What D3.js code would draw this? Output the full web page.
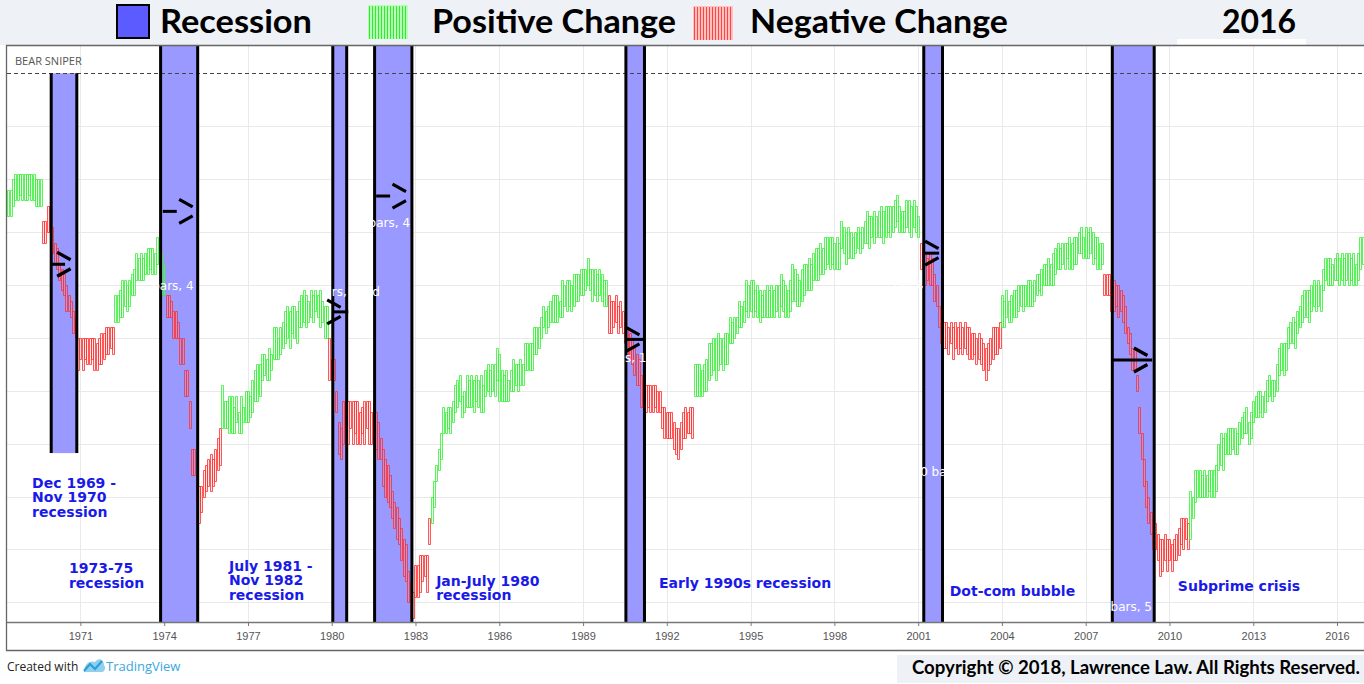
<!DOCTYPE html>
<html><head><meta charset="utf-8">
<script src="https://cdn.jsdelivr.net/npm/d3@7"></script>
<style>body{margin:0;background:#fff}svg{display:block}</style>
</head><body>
<svg id="c" width="1364" height="684"></svg>
<script>
// ---------------- DATA ----------------
const firstMonth = [1968, 6];           // first bar: June 1968, monthly bars
const highs = [
 88,88,90,91,91,91,91,                         // 1968 Jun-Dec
 91,91,91,91,91,90,90,90,82,82,85,85,          // 1969
 81,78,77,74,73,72,70,68,67,65,64,60,          // 1970
 60,60,60,60,60,60,60,59,60,61,61,62,          // 1971
 62,62,62,68,68,69,71,71,70,71,72,73,          // 1972
 76,75,76,75,76,77,77,77,76,79,77,76,          // 1973
 74,68,68,67,65,65,63,60,60,54,54,48,          // 1974
 39,39,34,32,32,35,36,37,38,37,39,41,          // 1975
 43,51,48,48,49,49,47,49,46,49,47,50,          // 1976
 50,49,52,54,55,55,57,57,56,58,57,62,          // 1977
 62,60,62,63,65,66,65,66,66,65,67,68,          // 1978
 69,68,67,69,68,69,68,69,67,66,66,60,          // 1979
 56,56,50,44,43,48,48,48,48,48,48,48,          // 1980
 46,47,48,48,48,46,48,46,44,41,39,37,          // 1981
 36,34,31,29,28,26,24,22,21,16,14,12,          // 1982
 17,17,19,19,19,19,26,30,33,36,39,42,          // 1983
 47,46,47,47,48,51,52,53,49,50,53,52,          // 1984
 53,52,53,52,53,51,54,55,54,55,55,58,          // 1985
 57,54,53,54,52,54,56,55,55,56,55,59,          // 1986
 59,59,59,62,62,62,64,66,65,66,67,68,          // 1987
 68,68,67,71,70,71,71,70,72,72,72,73,          // 1988
 73,73,75,73,73,73,72,73,72,71,71,68,          // 1989
 67,67,68,66,67,65,63,62,61,60,58,57,          // 1990
 56,53,52,51,51,51,51,51,50,50,47,47,          // 1991
 46,46,46,44,43,43,44,46,47,46,47,47,          // 1992
 55,55,55,54,55,56,59,59,60,60,61,60,          // 1993
 60,61,61,64,63,64,64,67,66,67,71,70,          // 1994
 71,71,69,70,69,68,69,70,69,70,69,70,          // 1995
 70,72,71,70,69,71,74,73,72,71,73,74,          // 1996
 74,75,74,76,77,77,78,77,79,79,79,79,          // 1997
 78,79,78,82,81,80,81,80,79,80,81,80,          // 1998
 81,82,84,83,83,84,83,84,85,84,85,85,          // 1999
 85,85,86,87,85,84,84,86,86,85,86,85,          // 2000
 83,78,77,76,75,76,75,72,70,66,63,63,          // 2001
 63,62,63,62,63,62,63,62,63,62,62,61,          // 2002
 61,60,61,60,59,58,59,60,62,62,62,63,          // 2003
 68,67,69,67,68,69,69,70,70,70,70,71,          // 2004
 71,70,71,72,72,73,74,74,75,74,76,77,          // 2005
 78,77,78,78,78,79,78,79,79,80,81,79,          // 2006
 81,80,81,80,79,79,78,78,72,72,72,71,          // 2007
 71,70,70,69,68,66,62,61,58,58,53,47,          // 2008
 42,37,33,30,27,26,25,23,22,22,23,22,          // 2009
 22,21,22,23,24,26,26,26,25,31,30,35,          // 2010
 35,35,34,35,34,35,35,35,36,40,42,41,          // 2011
 42,43,43,43,43,42,44,45,46,47,44,46,          // 2012
 48,49,50,50,49,50,52,53,52,52,55,58,          // 2013
 59,59,59,62,63,64,63,65,66,68,69,69,          // 2014
 69,70,71,70,71,70,73,75,75,75,74,75,          // 2015
 76,75,76,75,76,76,75,76,74,76,79,79           // 2016
];
const lows = [
 83,83,85,86,86,87,86,                         // 1968 Jun-Dec
 86,86,87,86,86,85,85,85,78,78,80,80,          // 1969
 76,74,73,71,69,68,65,65,64,61,60,54,          // 1970
 56,54,56,55,55,56,54,54,55,55,56,57,          // 1971
 57,58,57,63,63,64,64,66,65,66,68,68,          // 1972
 71,71,71,71,72,72,73,72,72,74,72,68,          // 1973
 68,64,64,64,60,60,60,55,55,49,49,43,          // 1974
 34,34,29,25,27,30,31,32,31,32,33,35,          // 1975
 36,43,43,43,42,42,42,44,42,42,44,44,          // 1976
 44,45,46,48,48,49,52,53,52,52,54,56,          // 1977
 56,56,57,58,59,60,58,61,60,59,62,62,          // 1978
 63,62,63,64,63,65,64,62,63,60,60,52,          // 1979
 52,52,46,38,37,40,43,40,43,40,42,40,          // 1980
 40,42,40,43,40,40,41,39,37,37,32,30,          // 1981
 29,28,26,24,22,21,18,15,14,10,7,7,            // 1982
 11,11,12,14,15,12,21,25,28,33,35,37,          // 1983
 42,42,43,42,44,46,47,48,45,46,47,47,          // 1984
 47,46,48,47,46,46,49,50,49,50,49,52,          // 1985
 48,48,48,48,48,50,50,51,50,51,51,54,          // 1986
 54,54,54,57,57,58,60,62,61,62,63,63,          // 1987
 63,63,64,64,66,65,66,65,66,67,67,68,          // 1988
 68,69,70,69,67,68,67,68,67,66,66,61,          // 1989
 61,62,63,61,62,61,59,57,56,55,53,51,          // 1990
 51,47,47,46,47,46,46,47,46,46,43,41,          // 1991
 41,41,41,39,38,37,39,41,41,42,42,41,          // 1992
 49,49,49,49,50,50,52,53,54,52,54,55,          // 1993
 54,55,55,59,59,60,61,62,62,63,65,64,          // 1994
 65,64,65,64,63,64,64,64,64,64,64,65,          // 1995
 64,66,65,64,64,65,67,67,66,66,67,68,          // 1996
 69,69,69,71,71,71,72,72,73,74,73,74,          // 1997
 73,73,73,77,76,74,75,75,75,76,77,76,          // 1998
 77,78,78,77,79,78,79,79,79,78,79,80,          // 1999
 79,80,81,82,80,80,80,81,80,79,81,80,          // 2000
 79,73,73,70,71,70,70,67,66,62,59,58,          // 2001
 58,57,59,56,58,57,58,57,58,57,56,56,          // 2002
 57,55,56,55,54,52,54,55,56,57,57,58,          // 2003
 62,62,64,63,63,64,64,65,66,65,66,66,          // 2004
 66,66,67,68,69,68,70,70,70,70,70,72,          // 2005
 73,73,74,73,75,73,73,74,74,76,76,75,          // 2006
 75,75,76,74,75,73,73,74,68,68,68,65,          // 2007
 65,66,64,65,63,61,59,57,54,54,50,42,          // 2008
 37,32,28,25,23,20,20,18,15,16,18,16,          // 2009
 18,16,18,18,19,21,20,22,20,22,26,29,          // 2010
 30,30,30,30,30,31,30,30,31,35,36,35,          // 2011
 38,38,38,39,38,38,40,41,42,42,40,41,          // 2012
 44,45,45,46,45,46,48,49,48,49,50,53,          // 2013
 54,53,54,58,59,59,58,61,62,63,64,64,          // 2014
 63,65,66,65,66,65,69,71,70,70,70,71,          // 2015
 71,70,71,70,71,70,71,70,70,71,73,74           // 2016
];
// months whose bars are drawn as "Negative Change"
const negativeRuns = [
 ["1969-09","1972-03"], ["1974-02","1976-01"], ["1979-12","1983-07"],
 ["1989-12","1992-12"], ["2001-02","2003-12"], ["2007-09","2010-09"]
];
// recession bands (mid-month boundaries); first band spans a limited value range
const recessionStarts = ["1969-12-15","1973-11-15","1980-01-15","1981-07-15","1990-07-15","2001-03-15","2007-12-15"];
const recessionEnds   = ["1970-11-15","1975-03-15","1980-07-15","1982-11-15","1991-03-15","2001-11-15","2009-06-15"];
const recessionTop    = [110, null, null, null, null, null, null];
const recessionBottom = [38.2, null, null, null, null, null, null];
const recessionLabels = [
 {lines:["Dec 1969 -","Nov 1970","recession"], at:1969.27, level:31.6},
 {lines:["1973-75","recession"], at:1970.59, level:15.5},
 {lines:["July 1981 -","Nov 1982","recession"], at:1976.32, level:15.9},
 {lines:["Jan-July 1980","recession"], at:1983.74, level:13.1},
 {lines:["Early 1990s recession"], at:1991.72, level:12.7},
 {lines:["Dot-com bubble"], at:2002.13, level:11.2},
 {lines:["Subprime crisis"], at:2010.30, level:12.1}
];
// "bear sniper" arrows: horizontal stroke from..to, chevron tip, at level
const arrowFrom  = [1969.91, 1973.95, 1980.05, 1981.59, 1990.57, 2001.18, 2007.92];
const arrowTo    = [1970.45, 1974.45, 1980.59, 1982.09, 1991.16, 2001.75, 2009.38];
const arrowTip   = [1970.65, 1975.02, 1980.32, 1982.66, 1991.02, 2001.73, 2009.21];
const arrowLevel = [73.9, 83.9, 64.9, 86.8, 59.7, 76.0, 55.8];
// white "bars, ..." annotations
const noteTexts  = ["bars, 4", "bars, 4", "rs,", "d", "s, 1", "bars,", "0 ba", "bars, 5"];
const noteAt     = [1973.57, 1981.32, 1980.0, 1981.45, 1990.5, 2000.13, 2001.07, 2007.89];
const noteLevel  = [69.0, 81.0, 67.9, 67.9, 55.4, 69.4, 33.9, 8.4];
const gridLevels = [10,20,30,40,50,60,70,80,90,100];
const sniperLevel = 110;
const tickYears = [1971,1974,1977,1980,1983,1986,1989,1992,1995,1998,2001,2004,2007,2010,2013,2016];
const legendItems = ["Recession","Positive Change","Negative Change"];
const titleYear = "2016";

// ---------------- CHART ----------------
const W = 1364, H = 684;
const P = {left: 7, right: 1364, top: 46, bottom: 622};
const svg = d3.select("#c");
const yearToDate = v => { const y = Math.floor(v); const s = new Date(y,0,1), e = new Date(y+1,0,1); return new Date(+s + (v-y)*(e-s)); };
const x = d3.scaleTime().domain([new Date(1971,0,1), new Date(2016,0,1)]).range([80.4, 1337]);
const y = d3.scaleLinear().domain([10,110]).range([602.3, 73.3]);

// header
svg.append("rect").attr("x",0).attr("y",0).attr("width",W).attr("height",45).attr("fill","#eef2f6");
svg.append("rect").attr("x",1177).attr("y",39).attr("width",129).attr("height",6).attr("fill","#ffffff");
// plot background
svg.append("rect").attr("x",P.left).attr("y",P.top).attr("width",P.right-P.left).attr("height",650-P.top).attr("fill","#fff");

svg.append("defs").append("clipPath").attr("id","clip").append("rect")
  .attr("x",P.left).attr("y",P.top).attr("width",P.right-P.left).attr("height",P.bottom-P.top);
const g = svg.append("g").attr("clip-path","url(#clip)");

// grid
g.selectAll(".hg").data(gridLevels).join("line")
  .attr("x1",P.left).attr("x2",P.right).attr("y1",d=>Math.round(y(d))+0.5).attr("y2",d=>Math.round(y(d))+0.5)
  .attr("stroke","#e9e9e9");
g.selectAll(".vg").data(tickYears).join("line")
  .attr("x1",d=>Math.round(x(new Date(d,0,1)))+0.5).attr("x2",d=>Math.round(x(new Date(d,0,1)))+0.5)
  .attr("y1",P.top).attr("y2",P.bottom).attr("stroke","#e9e9e9");

// recession fills
const bands = recessionStarts.map((s,i)=>({
  x0: x(new Date(s)), x1: x(new Date(recessionEnds[i])),
  y0: recessionTop[i]==null ? P.top : y(recessionTop[i]),
  y1: recessionBottom[i]==null ? P.bottom : y(recessionBottom[i])
}));
g.selectAll(".band").data(bands).join("rect")
  .attr("x",d=>d.x0).attr("width",d=>d.x1-d.x0).attr("y",d=>d.y0).attr("height",d=>d.y1-d.y0)
  .attr("fill","#9999ff");

// sniper level dashed
g.append("line").attr("x1",P.left).attr("x2",P.right).attr("y1",Math.round(y(sniperLevel))+0.5).attr("y2",Math.round(y(sniperLevel))+0.5)
  .attr("stroke","#444").attr("stroke-dasharray","4,3");
svg.append("text").attr("x",15).attr("y",65).text("BEAR SNIPER")
  .attr("font-family","'Open Sans', sans-serif").attr("font-size",11).attr("fill","#555");

// bars: narrow outlined boxes from low to high
const isNeg = d => negativeRuns.some(([a,b]) => { const k = d3.timeFormat("%Y-%m")(d); return k>=a && k<=b; });
const bars = highs.map((h,i)=>{ const d = new Date(firstMonth[0], firstMonth[1]-1+i, 1); return {d, hi:h, lo:lows[i], neg:isNeg(d)}; });
g.selectAll(".bar").data(bars).join("path")
  .attr("d", b => { const cx = Math.round(x(b.d)), t = Math.round(y(b.hi))+0.5, l = Math.round(y(b.lo))+0.5;
    return `M${cx-0.5},${t}H${cx+1.5}V${l}H${cx-0.5}Z`; })
  .attr("fill", b => b.neg ? "#ff9090" : "#a0ffa0").attr("fill-opacity",0.2)
  .attr("stroke", b => b.neg ? "#ff2f2f" : "#38f038")
  .attr("stroke-opacity", 0.8).attr("stroke-width",1);

// band borders
bands.forEach(b=>{
  [b.x0,b.x1].forEach(xx=>{
    g.append("line").attr("x1",xx).attr("x2",xx).attr("y1",b.y0).attr("y2",b.y1).attr("stroke","#000").attr("stroke-width",3);
  });
});

// arrows
arrowFrom.forEach((f,i)=>{
  const yy = y(arrowLevel[i]), tx = x(yearToDate(arrowTip[i]));
  g.append("line").attr("x1",x(yearToDate(f))).attr("x2",x(yearToDate(arrowTo[i]))).attr("y1",yy).attr("y2",yy)
    .attr("stroke","#000").attr("stroke-width",3);
  g.append("path").attr("d",`M${tx-13.5},${yy-12}L${tx},${yy-4.5}M${tx},${yy+4.5}L${tx-13.5},${yy+12}`)
    .attr("stroke","#000").attr("stroke-width",3.2).attr("fill","none");
});

// white notes
noteTexts.forEach((t,i)=>{
  g.append("text").attr("x",x(yearToDate(noteAt[i]))).attr("y",y(noteLevel[i])).text(t)
    .attr("font-family","'DejaVu Sans', sans-serif").attr("font-size",12).attr("fill","#fff");
});

// recession labels
recessionLabels.forEach(L=>{
  const t = svg.append("text").attr("x",x(yearToDate(L.at))).attr("y",y(L.level))
    .attr("font-family","'DejaVu Sans', sans-serif").attr("font-weight","bold").attr("font-size",14).attr("fill","#1a1ae8");
  L.lines.forEach((s,j)=> t.append("tspan").attr("x",x(yearToDate(L.at))).attr("dy", j===0?0:14.3).text(s));
});

// axis
const ax = svg.append("g").attr("transform",`translate(0,${P.bottom})`)
  .call(d3.axisBottom(x).tickValues(tickYears.map(v=>new Date(v,0,1))).tickFormat(d3.timeFormat("%Y")).tickSize(4).tickPadding(6));
ax.select(".domain").remove();
ax.selectAll(".tick line").attr("stroke","#777");
ax.selectAll(".tick text").attr("font-family","'Liberation Sans', Arial, sans-serif").attr("font-size",11).attr("fill","#555");
svg.append("line").attr("x1",P.left).attr("x2",P.right).attr("y1",P.bottom+0.5).attr("y2",P.bottom+0.5).attr("stroke","#777").attr("stroke-width",1.5);

// frame
svg.append("path").attr("d",`M${W},45.5H6.5V650.5H${W}`).attr("fill","none").attr("stroke","#666").attr("stroke-width",1.3);

// legend
const lg = svg.append("g");
lg.append("rect").attr("x",117).attr("y",5).attr("width",32).attr("height",33).attr("fill","#5b5bff").attr("stroke","#000").attr("stroke-width",2);
lg.append("rect").attr("x",368).attr("y",5).attr("width",40).attr("height",34).attr("fill","#b5ffb5");
d3.range(369,408,3).forEach(v=> lg.append("line").attr("x1",v+0.5).attr("x2",v+0.5).attr("y1",6).attr("y2",39).attr("stroke","#33e833"));
lg.append("rect").attr("x",693).attr("y",6).attr("width",40).attr("height",34).attr("fill","#ffc0c0");
d3.range(694,733,3).forEach(v=> lg.append("line").attr("x1",v+0.5).attr("x2",v+0.5).attr("y1",7).attr("y2",40).attr("stroke","#ff4444"));
const legX = [160, 432, 750], legW = [152, 244, 258];
legendItems.forEach((s,i)=> lg.append("text").attr("x",legX[i]).attr("y",33).text(s)
  .attr("font-family","Lato, sans-serif").attr("font-weight","bold").attr("font-size",33).attr("fill","#000")
  .attr("textLength",legW[i]).attr("lengthAdjust","spacingAndGlyphs"));
lg.append("text").attr("x",1222).attr("y",33).text(titleYear)
  .attr("font-family","Lato, sans-serif").attr("font-weight","bold").attr("font-size",33).attr("fill","#000")
  .attr("textLength",74).attr("lengthAdjust","spacingAndGlyphs");

// footer
svg.append("text").attr("x",7).attr("y",671).text("Created with")
  .attr("font-family","'Open Sans', sans-serif").attr("font-size",12).attr("fill","#222");
svg.append("path").attr("d","M84,672 C84,664 90,660 95,662 C98,657 104,659 104,665 C106,667 105,672 102,672 Z").attr("fill","#8fd0f0");
svg.append("path").attr("d","M84,671 L90,664 L95,669 L102,661").attr("fill","none").attr("stroke","#2a9fd8").attr("stroke-width",2.2);
svg.append("text").attr("x",106).attr("y",671).text("TradingView")
  .attr("font-family","'Open Sans', sans-serif").attr("font-size",13).attr("fill","#3aa7de");
svg.append("rect").attr("x",897).attr("y",655).attr("width",467).attr("height",28).attr("fill","#eef2f6");
svg.append("text").attr("x",912).attr("y",674).text("Copyright © 2018, Lawrence Law. All Rights Reserved.")
  .attr("font-family","Lato, sans-serif").attr("font-weight","bold").attr("font-size",18).attr("fill","#000")
  .attr("textLength",448).attr("lengthAdjust","spacingAndGlyphs");
</script>
</body></html>
